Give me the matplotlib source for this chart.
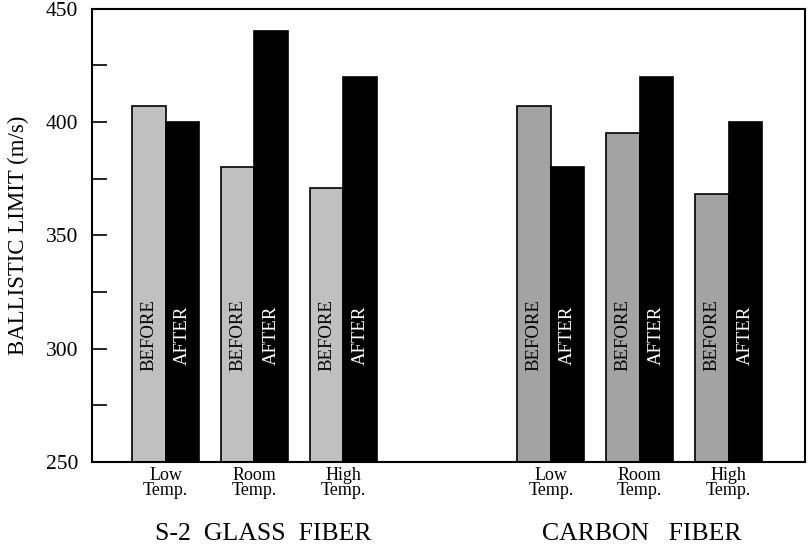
import matplotlib
matplotlib.use("Agg")
import matplotlib.pyplot as plt
from matplotlib.ticker import MultipleLocator

plt.rcParams['font.family'] = ['Liberation Serif', 'DejaVu Serif']

groups = ["S-2  GLASS  FIBER", "CARBON   FIBER"]
conditions = ["Low\nTemp.", "Room\nTemp.", "High\nTemp."]
glass_before = [407, 380, 371]
glass_after = [400, 440, 420]
carbon_before = [407, 395, 368]
carbon_after = [380, 420, 400]
before_colors = ["#c0c0c0", "#a3a3a3"]
after_color = "#000000"

fig = plt.figure(figsize=(8.08, 5.45), dpi=100)
ax = fig.add_axes([92/808, 1 - 462/545, (805-92)/808, (462-8.5)/545])

group_starts = [2.2, 13.7]
group_label_offsets = [0.25, 0.05]
spacing = 2.65
width = 1.0
data = [(glass_before, glass_after), (carbon_before, carbon_after)]
label_y = 306
for gi, (bef, aft) in enumerate(data):
    centers = [group_starts[gi] + i * spacing for i in range(len(conditions))]
    xb = [c - width / 2 for c in centers]
    xa = [c + width / 2 for c in centers]
    ax.bar(xb, bef, width=width, bottom=0, color=before_colors[gi],
           edgecolor="black", linewidth=1.2, zorder=2)
    ax.bar(xa, aft, width=width, bottom=0, color=after_color,
           edgecolor="black", linewidth=1.2, zorder=2)
    for c, x1, x2, cond in zip(centers, xb, xa, conditions):
        ax.text(x1, label_y, "BEFORE", rotation=90, ha="center", va="center",
                fontsize=13.5, color="black", zorder=3)
        ax.text(x2, label_y, "AFTER", rotation=90, ha="center", va="center",
                fontsize=13.5, color="white", zorder=3)
        ax.text(c, 248, cond, ha="center", va="top", fontsize=13,
                linespacing=0.92)
    ax.text(centers[1] + group_label_offsets[gi], 223.2, groups[gi],
            ha="center", va="top", fontsize=18.5)

ax.set_ylim(250, 450)
ax.set_xlim(0, 713 / 33.5)
ax.yaxis.set_major_locator(MultipleLocator(50))
ax.yaxis.set_minor_locator(MultipleLocator(25))
ax.tick_params(axis="y", which="both", direction="in", length=11, width=1.2,
               labelsize=15.5, pad=10)
ax.tick_params(axis="x", which="both", bottom=False, labelbottom=False)
for s in ax.spines.values():
    s.set_linewidth(1.5)
ax.set_ylabel("BALLISTIC LIMIT (m/s)", fontsize=16.4, labelpad=12)

fig.savefig("out.png", dpi=100)
